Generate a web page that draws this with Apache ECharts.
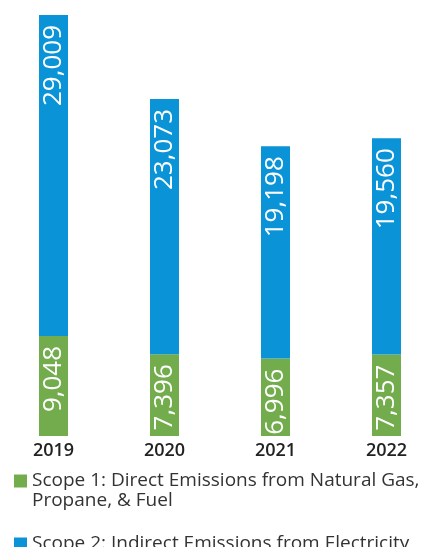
<!DOCTYPE html>
<html><head><meta charset="utf-8">
<script src="https://cdn.jsdelivr.net/npm/echarts@6/dist/echarts.min.js"></script>
<style>html,body{margin:0;padding:0;background:#fff}#c{width:429px;height:547px}</style>
</head><body><div id="c"></div>
<script>
const years = ['2019','2020','2021','2022'];
const scope1 = [9048, 7396, 6996, 7357];
const scope2 = [29009, 23073, 19198, 19560];
const name1 = 'Scope 1: Direct Emissions from Natural Gas, Propane, & Fuel';
const name2 = 'Scope 2: Indirect Emissions from Electricity';
const green = '#72ac4c', blue = '#0a93d6';
const fontFam = '"Open Sans", sans-serif';
const chart = echarts.init(document.getElementById('c'));
const lbl = {
  show: true, position: 'insideTop', distance: 10, rotate: 90,
  align: 'right', verticalAlign: 'middle', color: '#fff',
  fontFamily: fontFam, fontSize: 26,
  formatter: p => p.value.toLocaleString('en-US')
};
chart.setOption({
  animation: false,
  grid: {left: -2, right: -13, top: 15, bottom: 111, outerBoundsMode: 'none', containLabel: false},
  xAxis: {type: 'category', data: years,
    axisLine: {show: false}, axisTick: {show: false},
    axisLabel: {margin: 6, color: '#222', fontSize: 18, fontWeight: 600, fontFamily: fontFam}},
  yAxis: {type: 'value', min: 0, max: v => v.max, show: false, splitLine: {show: false}},
  legend: [
    {data: [name1], orient: 'vertical', left: 9, top: 446, itemWidth: 13, itemHeight: 13,
      icon: 'rect', formatter: n => ' \n' + n.replace('Gas, ', 'Gas,\n'),
      textStyle: {fontSize: 19, fontFamily: fontFam, color: '#333', lineHeight: 20}},
    {data: [name2], orient: 'vertical', left: 9, top: 529, itemWidth: 13, itemHeight: 13,
      icon: 'rect',
      textStyle: {fontSize: 19, fontFamily: fontFam, color: '#333', lineHeight: 20}}
  ],
  series: [
    {name: name1, type: 'bar', stack: 't', data: scope1, barWidth: 29,
      itemStyle: {color: green}, label: lbl},
    {name: name2, type: 'bar', stack: 't', data: scope2, barWidth: 29,
      itemStyle: {color: blue}, label: lbl}
  ]
});
</script></body></html>
